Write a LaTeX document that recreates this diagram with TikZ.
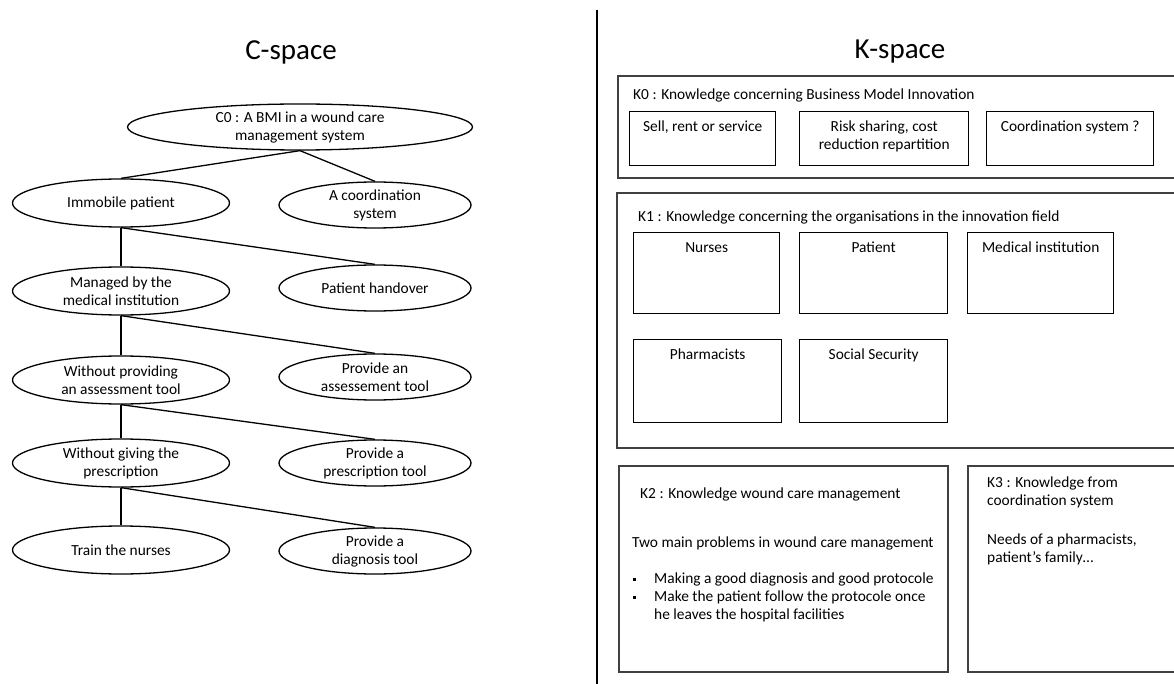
\documentclass[tikz,border=0pt]{standalone}
\usepackage{fontspec}
\setmainfont{Carlito}
\usetikzlibrary{shapes.geometric, positioning}
\definecolor{FrameGrey}{rgb}{0.25,0.25,0.25}
\newcommand{\txtsize}{\fontsize{15.4}{18}\selectfont}
\newcommand{\titlesize}{\fontsize{29}{34}\selectfont}
\newcommand{\sqbullet}{\raisebox{0.2em}{\rule{3pt}{3pt}}}

\begin{document}
\begin{tikzpicture}[x=1pt, y=-1pt,
	concept/.style={ellipse, draw, line width=1.3pt, inner sep=0pt, align=center, font=\txtsize},
	rootc/.style={concept, minimum width=345pt, minimum height=46pt},
	leftc/.style={concept, minimum width=217pt, minimum height=48pt},
	rightc/.style={concept, minimum width=192pt, minimum height=46pt},
	link/.style={line width=1.3pt},
	kframe/.style={draw=FrameGrey, line width=1.8pt, anchor=north west, inner sep=0pt},
	kcell/.style={draw, line width=1.4pt, anchor=north west, inner sep=0pt},
	ktext/.style={inner sep=0pt, font=\txtsize, align=left, anchor=west},
	celltext/.style={inner sep=0pt, font=\txtsize, align=center},
	spacetitle/.style={inner sep=0pt, font=\titlesize},
	]
	\useasboundingbox (0,0) rectangle (1174,684);
	\clip (0,0) rectangle (1174,684);

	% titles and divider
	\node[spacetitle] (ctitle) at (291,52) {C-space};
	\node[spacetitle] (ktitle) at (900,52) {K-space};
	\draw[link] (597,10) -- (597,684);

	% C-space tree
	\node[rootc] (c0) at (300,127) {C0 : A BMI in a wound care\\management system};
	\node[leftc] (immobile) at (121,203) {Immobile patient};
	\node[rightc] (coordsys) at (375,205) {A coordination\\system};
	\node[leftc] (managed) at (121,291) {Managed by the\\medical institution};
	\node[rightc] (handover) at (375,288) {Patient handover};
	\node[leftc] (noassess) at (121,380) {Without providing\\an assessment tool};
	\node[rightc] (assess) at (375,377) {Provide an\\assessement tool};
	\node[leftc] (noprescr) at (121,463) {Without giving the\\prescription};
	\node[rightc] (prescr) at (375,463) {Provide a\\prescription tool};
	\node[leftc] (train) at (121,550) {Train the nurses};
	\node[rightc] (diagnosis) at (375,551) {Provide a\\diagnosis tool};

	\draw[link] (c0.south) -- (immobile.north);
	\draw[link] (c0.south) -- (coordsys.north);
	\draw[link] (immobile.south) -- (managed.north);
	\draw[link] (immobile.south) -- (handover.north);
	\draw[link] (managed.south) -- (noassess.north);
	\draw[link] (managed.south) -- (assess.north);
	\draw[link] (noassess.south) -- (noprescr.north);
	\draw[link] (noassess.south) -- (prescr.north);
	\draw[link] (noprescr.south) -- (train.north);
	\draw[link] (noprescr.south) -- (diagnosis.north);

	% K0
	\node[kframe, minimum width=563pt, minimum height=102pt] (k0) at (617,75) {};
	\node[ktext] (k0label) at (633,95) {K0 : Knowledge concerning Business Model Innovation};
	\node[kcell, minimum width=146pt, minimum height=54pt] (sell) at (629,111) {};
	\node[kcell, minimum width=169pt, minimum height=54pt] (risk) at (799,111) {};
	\node[kcell, minimum width=167pt, minimum height=54pt] (coordq) at (986,111) {};
	\node[celltext, below=10pt of sell.north] (selltxt) {Sell, rent or service};
	\node[celltext, below=10pt of risk.north] (risktxt) {Risk sharing, cost\\reduction repartition};
	\node[celltext, below=10pt of coordq.north] (coordqtxt) {Coordination system ?};

	% K1
	\node[kframe, minimum width=564pt, minimum height=255pt] (k1) at (616,192) {};
	\node[ktext] (k1label) at (638,217) {K1 : Knowledge concerning the organisations in the innovation field};
	\node[kcell, minimum width=146pt, minimum height=81pt] (nurses) at (633,232) {};
	\node[kcell, minimum width=148pt, minimum height=81pt] (patient) at (799,232) {};
	\node[kcell, minimum width=146pt, minimum height=81pt] (medical) at (967,232) {};
	\node[kcell, minimum width=148pt, minimum height=83pt] (pharma) at (633,339) {};
	\node[kcell, minimum width=148pt, minimum height=83pt] (social) at (799,339) {};
	\node[celltext, below=10pt of nurses.north] (nursestxt) {Nurses};
	\node[celltext, below=10pt of patient.north] (patienttxt) {Patient};
	\node[celltext, below=10pt of medical.north] (medicaltxt) {Medical institution};
	\node[celltext, below=10pt of pharma.north] (pharmatxt) {Pharmacists};
	\node[celltext, below=10pt of social.north] (socialtxt) {Social Security};

	% K2 and K3
	\node[kframe, minimum width=329pt, minimum height=206pt] (k2) at (618,465) {};
	\node[kframe, minimum width=213pt, minimum height=206pt] (k3) at (967,465) {};
	\node[ktext] (k2label) at (640,494) {K2 : Knowledge wound care management};
	\node[ktext] (k2intro) at (632,543) {Two main problems in wound care management};
	\node[ktext] (k2list) at (633,598) {\begin{tabular}{@{}p{21pt}@{}l@{}}
		\sqbullet & Making a good diagnosis and good protocole\\
		\sqbullet & Make the patient follow the protocole once\\
		& he leaves the hospital facilities
	\end{tabular}};
	\node[ktext] (k3label) at (987,492) {K3 : Knowledge from\\coordination system};
	\node[ktext] (k3needs) at (987,549.5) {Needs of a pharmacists,\\patient’s family…};
\end{tikzpicture}
\end{document}
